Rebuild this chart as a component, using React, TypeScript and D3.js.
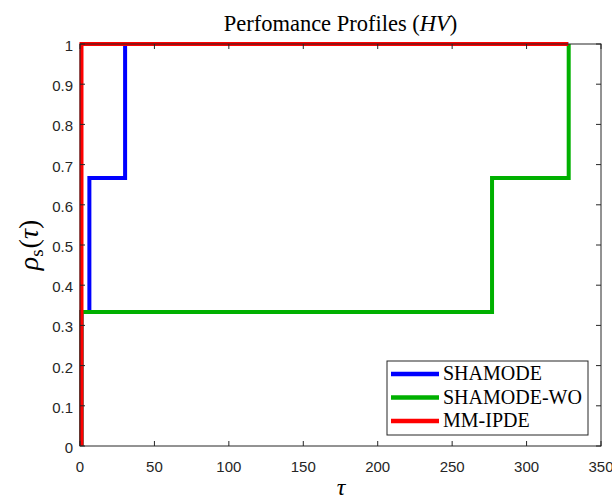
import React from "react";
import * as d3 from "d3";

const seriesNames = ["SHAMODE", "SHAMODE-WO", "MM-IPDE"];
const seriesColors = ["#0000ff", "#00b000", "#ff0000"];
const shamode = [[1, 0], [1, 0.3333], [6.3, 0.6667], [30.3, 1], [328, 1]];
const shamodeWo = [[1, 0], [1, 0.3333], [276.8, 0.6667], [328.3, 1], [328.3, 1]];
const mmIpde = [[1, 0], [1, 1], [328, 1]];
const xTicks = [0, 50, 100, 150, 200, 250, 300, 350];
const yTicks = [0, 0.1, 0.2, 0.3, 0.4, 0.5, 0.6, 0.7, 0.8, 0.9, 1];

export default function App() {
  const W = 612, H = 503;
  const left = 80, right = 601, top = 44, bottom = 446;
  const x = d3.scaleLinear().domain([0, 350]).range([left, right]);
  const y = d3.scaleLinear().domain([0, 1]).range([bottom, top]);
  const line = d3.line<number[]>()
    .x(d => x(d[0]))
    .y(d => y(d[1]))
    .curve(d3.curveStepAfter);
  const all = [shamode, shamodeWo, mmIpde];
  const axisColor = "#262626";
  const tickFont = "'Liberation Sans', Arial, sans-serif";
  const serif = "'Liberation Serif', 'Times New Roman', 'DejaVu Serif', serif";

  return (
    <svg width={W} height={H} style={{ position: "absolute", left: 0, top: 0 }}>
      <rect x={0} y={0} width={W} height={H} fill="#fff" />
      {all.map((s, i) => (
        <path key={i} d={line(s) || ""} fill="none" stroke={seriesColors[i]}
          strokeWidth={4} strokeLinejoin="miter" />
      ))}
      {/* box */}
      <rect x={left} y={top} width={right - left} height={bottom - top}
        fill="none" stroke={axisColor} strokeWidth={1} />
      {xTicks.map(t => (
        <g key={"x" + t}>
          <line x1={x(t)} x2={x(t)} y1={bottom} y2={bottom - 5} stroke={axisColor} />
          <line x1={x(t)} x2={x(t)} y1={top} y2={top + 5} stroke={axisColor} />
          <text x={x(t)} y={472} textAnchor="middle" fontFamily={tickFont}
            fontSize={15} fill={axisColor}>{t}</text>
        </g>
      ))}
      {yTicks.map(t => (
        <g key={"y" + t}>
          <line x1={left} x2={left + 5} y1={y(t)} y2={y(t)} stroke={axisColor} />
          <line x1={right} x2={right - 5} y1={y(t)} y2={y(t)} stroke={axisColor} />
          <text x={73} y={y(t) + 7} textAnchor="end" fontFamily={tickFont}
            fontSize={15} fill={axisColor}>{t}</text>
        </g>
      ))}
      <text x={(left + right) / 2} y={31} textAnchor="middle" style={{ fontFamily: serif }}
        fontSize={22.5} fill="#000">
        Perfomance Profiles (<tspan fontStyle="italic">HV</tspan>)
      </text>
      <text x={341} y={495} textAnchor="middle" style={{ fontFamily: serif }}
        fontSize={24} fontStyle="italic" fill="#000">τ</text>
      <text transform={`translate(38,${(top + bottom) / 2}) rotate(-90)`} textAnchor="middle"
        style={{ fontFamily: serif }} fontSize={28} fill="#000">
        <tspan fontStyle="italic">ρ</tspan>
        <tspan fontSize={19} dy={5}>s</tspan>
        <tspan dy={-5} dx={1}>(</tspan>
        <tspan fontStyle="italic">τ</tspan>
        <tspan>)</tspan>
      </text>
      {/* legend */}
      <rect x={387} y={361} width={201} height={74} fill="#fff" stroke={axisColor} strokeWidth={1} />
      {seriesNames.map((n, i) => (
        <g key={n}>
          <line x1={391} x2={439} y1={374 + i * 23.5} y2={374 + i * 23.5}
            stroke={seriesColors[i]} strokeWidth={4.5} />
          <text x={443} y={380 + i * 23.5} style={{ fontFamily: serif }} fontSize={20}
            fill="#000">{n}</text>
        </g>
      ))}
    </svg>
  );
}
